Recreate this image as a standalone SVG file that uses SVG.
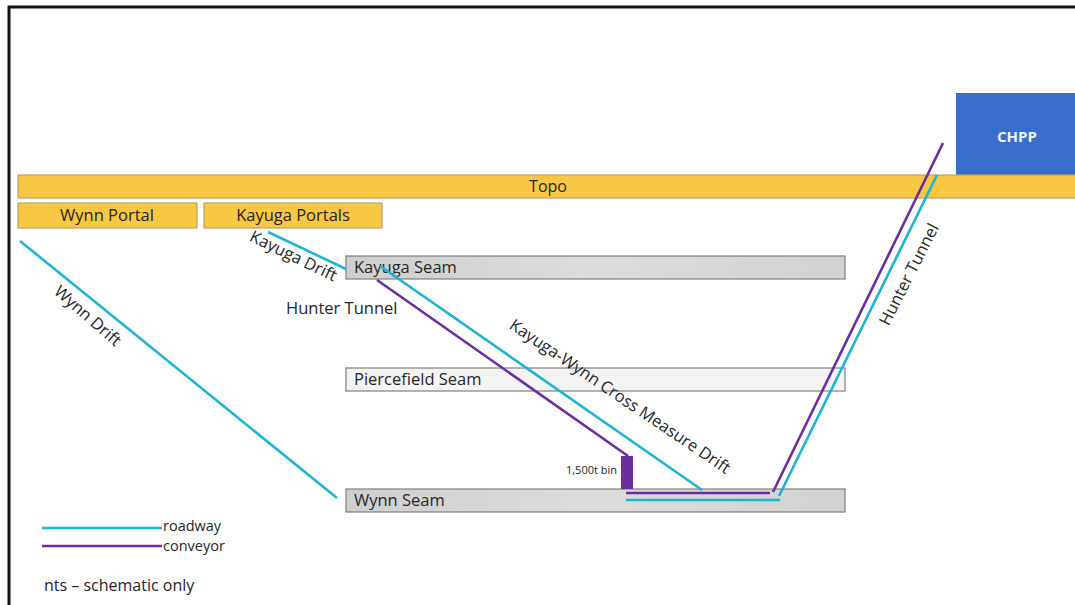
<svg xmlns="http://www.w3.org/2000/svg" width="1075" height="605" viewBox="0 0 1075 605">
<defs>
<style>
.t{font-family:"Open Sans","Liberation Sans",sans-serif;fill:#262626;}
.yb{fill:#F8C744;stroke:#B9A264;stroke-width:1.2;}
.seam{stroke:#7F7F7F;stroke-width:1.2;}
.rd{stroke:#1FB4CF;stroke-width:2.6;fill:none;stroke-linecap:butt;}
.cv{stroke:#6B2E9E;stroke-width:2.6;fill:none;}
</style>
<linearGradient id="g1" x1="0" y1="0" x2="1" y2="0">
<stop offset="0" stop-color="#CFCFCF"/><stop offset="0.5" stop-color="#DCDCDC"/><stop offset="1" stop-color="#D2D2D2"/>
</linearGradient>
</defs>
<rect x="0" y="0" width="1075" height="605" fill="#FFFFFF"/>
<path d="M9 605 V7 H1075" fill="none" stroke="#111" stroke-width="3"/>

<g id="chpp">
<rect x="956" y="93" width="119" height="82" fill="#3A6ECC"/>
<text class="t" x="1017" y="142" font-size="15" font-weight="bold" text-anchor="middle" style="fill:#EEF2FA">CHPP</text>
</g>
<g id="topo">
<rect class="yb" x="18" y="175" width="1060" height="23"/>
<text class="t" x="548" y="192" font-size="16" text-anchor="middle">Topo</text>
</g>
<g id="wynn-portal">
<rect class="yb" x="18" y="203" width="179" height="25"/>
<text class="t" x="107" y="221" font-size="16.5" text-anchor="middle">Wynn Portal</text>
</g>
<g id="kayuga-portals">
<rect class="yb" x="204" y="203" width="178" height="25"/>
<text class="t" x="293" y="221" font-size="16.5" text-anchor="middle">Kayuga Portals</text>
</g>
<g id="kayuga-seam">
<rect class="seam" x="346" y="256" width="499" height="23" fill="url(#g1)"/>
<text class="t" x="354" y="273" font-size="16.5">Kayuga Seam</text>
</g>
<g id="piercefield-seam">
<rect class="seam" x="346" y="368" width="499" height="23" fill="#F4F4F4"/>
<text class="t" x="354" y="385" font-size="16.5">Piercefield Seam</text>
</g>
<g id="wynn-seam">
<rect class="seam" x="346" y="489" width="499" height="23" fill="url(#g1)"/>
<text class="t" x="354" y="506" font-size="16.5">Wynn Seam</text>
</g>
<g id="bin">
<rect x="621" y="456" width="12" height="33" fill="#6B2E9E"/>
<text class="t" x="617" y="474" font-size="11" text-anchor="end">1,500t bin</text>
</g>

<g id="connectors">
<line class="rd" x1="20" y1="241" x2="337" y2="498"/>
<line class="rd" x1="268" y1="232" x2="346" y2="269"/>
<line class="rd" x1="380" y1="266" x2="702" y2="490"/>
<line class="cv" x1="377" y1="280" x2="628" y2="456"/>
<line class="cv" x1="626" y1="493" x2="770" y2="493"/>
<line class="rd" x1="626" y1="500" x2="780" y2="500"/>
<line class="cv" x1="773" y1="492" x2="943" y2="143"/>
<line class="rd" x1="779" y1="496" x2="937" y2="175"/>
</g>

<g id="labels">
<text class="t" font-size="16.5" text-anchor="middle" transform="translate(84,320) rotate(41)">Wynn Drift</text>
<text class="t" font-size="16.5" text-anchor="middle" transform="translate(291,261) rotate(26)">Kayuga Drift</text>
<text class="t" x="286" y="314" font-size="16.5">Hunter Tunnel</text>
<text class="t" font-size="16.5" text-anchor="middle" transform="translate(617,401) rotate(34)">Kayuga-Wynn Cross Measure Drift</text>
<text class="t" font-size="16.5" text-anchor="middle" transform="translate(914,277) rotate(-63)">Hunter Tunnel</text>
</g>

<g id="legend">
<line class="rd" x1="42" y1="528" x2="162" y2="528"/>
<line class="cv" x1="42" y1="546" x2="162" y2="546"/>
<text class="t" x="163" y="531" font-size="14.5">roadway</text>
<text class="t" x="163" y="551" font-size="14.5">conveyor</text>
<text class="t" x="44" y="591" font-size="16">nts – schematic only</text>
</g>
</svg>
